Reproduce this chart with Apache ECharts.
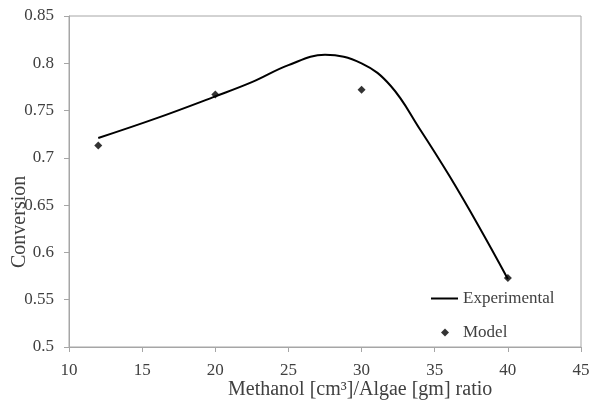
<!DOCTYPE html>
<html>
<head>
<meta charset="utf-8">
<script src="https://cdn.jsdelivr.net/npm/echarts@6/dist/echarts.min.js"></script>
<style>html,body{margin:0;padding:0;background:#fff;}#c{width:593px;height:404px;}</style>
</head>
<body>
<div id="c"></div>
<script>
// Experimental curve
var expX = [12, 16, 20, 22.5, 25, 27.5, 30, 32, 34, 36, 38, 40];
var expY = [0.721, 0.742, 0.765, 0.780, 0.798, 0.809, 0.800, 0.776, 0.730, 0.681, 0.628, 0.572];
// Model points
var modelX = [12, 20, 30, 40];
var modelY = [0.713, 0.767, 0.772, 0.573];
var xTicks = [10, 15, 20, 25, 30, 35, 40, 45];
var yTicks = [0.5, 0.55, 0.6, 0.65, 0.7, 0.75, 0.8, 0.85];

var FONT = 'Liberation Serif';
var TXT = '#404040';
var AX = '#a6a6a6';

var chart = echarts.init(document.getElementById('c'), null, {renderer: 'canvas'});
chart.setOption({
  animation: false,
  backgroundColor: '#fff',
  grid: {left: 69, right: 12, top: 16, bottom: 57, show: true, borderColor: AX, borderWidth: 1},
  xAxis: {
    type: 'value', min: xTicks[0], max: xTicks[xTicks.length - 1], interval: 5,
    axisLine: {lineStyle: {color: AX, width: 1}},
    axisTick: {show: true, inside: false, length: 5, lineStyle: {color: AX}},
    splitLine: {show: false},
    axisLabel: {color: TXT, fontFamily: FONT, fontSize: 17, margin: 15}
  },
  yAxis: {
    type: 'value', min: yTicks[0], max: yTicks[yTicks.length - 1], interval: 0.05,
    axisLine: {show: true, lineStyle: {color: AX, width: 1}},
    axisTick: {show: true, inside: false, length: 5, lineStyle: {color: AX}},
    splitLine: {show: false},
    axisLabel: {color: TXT, fontFamily: FONT, fontSize: 17, margin: 15,
      formatter: function (v) { return String(parseFloat(v.toFixed(2))); }}
  },
  legend: [
    {data: ['Experimental'], orient: 'vertical', left: 431, top: 290, icon: 'rect',
     itemWidth: 27, itemHeight: 2, itemGap: 0, padding: 0,
     textStyle: {color: TXT, fontFamily: FONT, fontSize: 17}},
    {data: ['Model'], orient: 'vertical', left: 441, top: 324, icon: 'diamond',
     itemWidth: 8, itemHeight: 8, padding: 0,
     textStyle: {color: TXT, fontFamily: FONT, fontSize: 17, padding: [0, 0, 0, 9]}}
  ],
  graphic: [
    {type: 'text', left: 228, top: 380,
     style: {text: 'Methanol [cm³]/Algae [gm] ratio', fill: TXT, font: '20px "Liberation Serif"'}},
    {type: 'text', x: 10, y: 268, rotation: Math.PI / 2,
     style: {text: 'Conversion', fill: TXT, font: '20px "Liberation Serif"'}}
  ],
  series: [
    {name: 'Experimental', type: 'line', smooth: 0.4, showSymbol: false, symbol: 'none',
     lineStyle: {color: '#000', width: 2}, itemStyle: {color: '#000'},
     data: expX.map(function (x, i) { return [x, expY[i]]; })},
    {name: 'Model', type: 'scatter', symbol: 'diamond', symbolSize: 8,
     itemStyle: {color: '#000'},
     data: modelX.map(function (x, i) { return [x, modelY[i]]; })}
  ]
});
</script>
</body>
</html>
